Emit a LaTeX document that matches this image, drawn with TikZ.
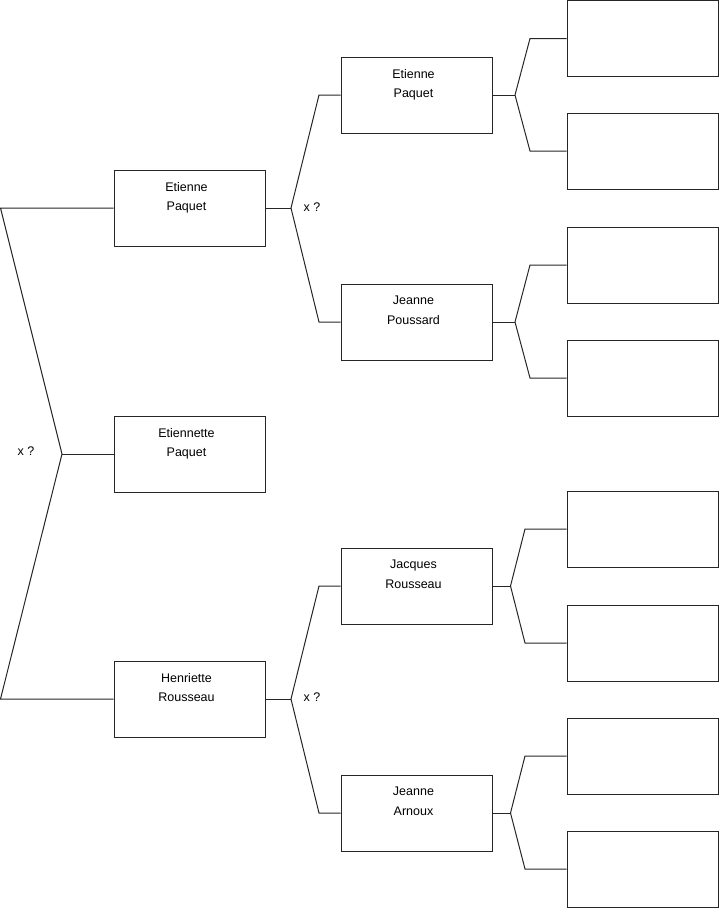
\documentclass[tikz,border=0pt]{standalone}
\usepackage{fontspec}
\setmainfont{Liberation Sans}
\begin{document}
\begin{tikzpicture}[x=1pt,y=-1pt,
  box/.style={draw=black!85,line width=1pt,rectangle,minimum width=151pt,minimum height=76pt,inner sep=0pt},
  who/.style={align=center,inner sep=0pt,anchor=north,yshift=-12.5pt,xshift=-3pt,font=\fontsize{12.5}{19.5}\selectfont},
  link/.style={draw=black!85,line width=1pt},
  qx/.style={font=\fontsize{12.5}{15}\selectfont,inner sep=0pt}]
\useasboundingbox (0,0) rectangle (719,908);
% generation 1
\node[box,label={[who]north:Etienne\\Paquet}] (a1) at (189.5,208) {};
\node[box,label={[who]north:Etiennette\\Paquet}] (a2) at (189.5,454) {};
\node[box,label={[who]north:Henriette\\Rousseau}] (a3) at (189.5,699) {};
% generation 2
\node[box,label={[who]north:Etienne\\Paquet}] (b1) at (416.5,95) {};
\node[box,label={[who]north:Jeanne\\Poussard}] (b2) at (416.5,322) {};
\node[box,label={[who]north:Jacques\\Rousseau}] (b3) at (416.5,586) {};
\node[box,label={[who]north:Jeanne\\Arnoux}] (b4) at (416.5,813) {};
% generation 3
\node[box] (c1) at (642.5,38.5) {};
\node[box] (c2) at (642.5,151) {};
\node[box] (c3) at (642.5,265) {};
\node[box] (c4) at (642.5,378) {};
\node[box] (c5) at (642.5,529) {};
\node[box] (c6) at (642.5,643) {};
\node[box] (c7) at (642.5,756) {};
\node[box] (c8) at (642.5,869) {};
% left bracket
\coordinate (l1) at (0.5,208);
\coordinate (l2) at (0.5,699);
\coordinate (j0) at (62,454);
\draw[link] (a1.west) -- (l1) -- (j0) -- (l2) -- (a3.west);
\draw[link] (j0) -- (a2.west);
\node[qx] (q0) at (26,451) {x ?};
% a1 -> b1,b2
\coordinate (j1) at (291,208);
\draw[link] (a1.east) -- (j1);
\draw[link] (j1) -- (319,95) -- (b1.west);
\draw[link] (j1) -- (319,322) -- (b2.west);
\node[qx] (q1) at (312,207) {x ?};
% a3 -> b3,b4
\coordinate (j2) at (291,699);
\draw[link] (a3.east) -- (j2);
\draw[link] (j2) -- (319,586) -- (b3.west);
\draw[link] (j2) -- (319,813) -- (b4.west);
\node[qx] (q2) at (312,697) {x ?};
% b1 -> c1,c2
\coordinate (k1) at (515,95);
\draw[link] (b1.east) -- (k1);
\draw[link] (k1) -- (530,38.5) -- (c1.west);
\draw[link] (k1) -- (530,151) -- (c2.west);
% b2 -> c3,c4
\coordinate (k2) at (515,322);
\draw[link] (b2.east) -- (k2);
\draw[link] (k2) -- (530,265) -- (c3.west);
\draw[link] (k2) -- (530,378) -- (c4.west);
% b3 -> c5,c6
\coordinate (k3) at (510.5,586);
\draw[link] (b3.east) -- (k3);
\draw[link] (k3) -- (525,529) -- (c5.west);
\draw[link] (k3) -- (525,643) -- (c6.west);
% b4 -> c7,c8
\coordinate (k4) at (510.5,813);
\draw[link] (b4.east) -- (k4);
\draw[link] (k4) -- (525,756) -- (c7.west);
\draw[link] (k4) -- (525,869) -- (c8.west);
\end{tikzpicture}
\end{document}
